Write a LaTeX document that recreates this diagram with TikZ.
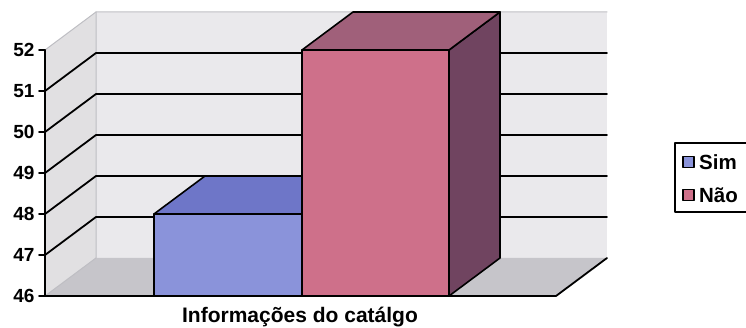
\documentclass[tikz,border=0pt]{standalone}
\usepackage{fontspec}
\setmainfont{Liberation Sans}
\usepackage{tikz}
\usetikzlibrary{calc}
\definecolor{wallgray}{RGB}{234,233,236}
\definecolor{floorgray}{RGB}{198,197,202}
\definecolor{edgegray}{RGB}{190,190,195}
\definecolor{simfront}{RGB}{138,147,218}
\definecolor{simtop}{RGB}{110,118,200}
\definecolor{naofront}{RGB}{206,112,138}
\definecolor{naotop}{RGB}{160,96,122}
\definecolor{naoside}{RGB}{112,68,96}
\tikzset{
  grid/.style={line width=1.8pt,black},
  face/.style={line width=1.6pt,draw=black,line join=round},
  ticklab/.style={anchor=east,font=\fontsize{19}{21}\selectfont\bfseries},
  leglab/.style={anchor=west,font=\fontsize{20.5}{22}\selectfont\bfseries},
  legbox/.style={draw=black,line width=1.2pt,minimum size=11pt,inner sep=0pt}
}
\begin{document}
\begin{tikzpicture}[line cap=round,line join=round,x=1pt,y=-1pt]
			\useasboundingbox (0,0) rectangle (746,328);
			% walls and floor
			\fill[wallgray] (96,12) -- (607,12) -- (607,258) -- (96,258) -- cycle;
			\fill[wallgray!96!black] (45,50) -- (96,12) -- (96,258) -- (45,296) -- cycle;
			\fill[floorgray] (45,296) -- (96,258) -- (607,258) -- (556,296) -- cycle;
			\draw[edgegray,line width=1pt] (45,50) -- (96,12) -- (607,12);
			\draw[edgegray,line width=1pt] (96,12) -- (96,258) -- (45,296);
			% grid lines
			\foreach \v in {47,...,51}
				\draw[grid] (45,{296-(\v-46)*41}) -- (96,{258-(\v-46)*41}) -- (607,{258-(\v-46)*41});
			\draw[grid] (45,296) -- (556,296) -- (607,258);
			% bar Sim
			\fill[simfront,face] (154,296) rectangle (302,214);
			\fill[simtop,face] (154,214) -- (205,176) -- (353,176) -- (302,214) -- cycle;
			% bar Nao
			\fill[naoside,face] (449,50) -- (500,12) -- (500,258) -- (449,296) -- cycle;
			\fill[naotop,face] (302,50) -- (353,12) -- (500,12) -- (449,50) -- cycle;
			\fill[naofront,face] (302,296) rectangle (449,50);
			% axis
			\draw[line width=1.6pt] (45,50) -- (45,296);
			\foreach \v in {46,...,52}{
				\draw[line width=1.6pt] (39,{296-(\v-46)*41}) -- (45,{296-(\v-46)*41});
				\node[ticklab] (t\v) at (38,{296-(\v-46)*41}) {\v};
			}
			\node[font=\fontsize{21}{23}\selectfont\bfseries] (xlab) at (300,317) {Informações do catálgo};
			% legend
			\draw[line width=1.4pt] (747,143) -- (675,143) -- (675,212) -- (747,212);
			\node[legbox,fill=simfront] (ksim) at (688.5,162) {};
			\node[legbox,fill=naofront] (knao) at (688.5,195) {};
			\node[leglab] (lsim) at ([xshift=1pt]ksim.east) {Sim};
			\node[leglab] (lnao) at ([xshift=1pt]knao.east) {Não};
\end{tikzpicture}
\end{document}
